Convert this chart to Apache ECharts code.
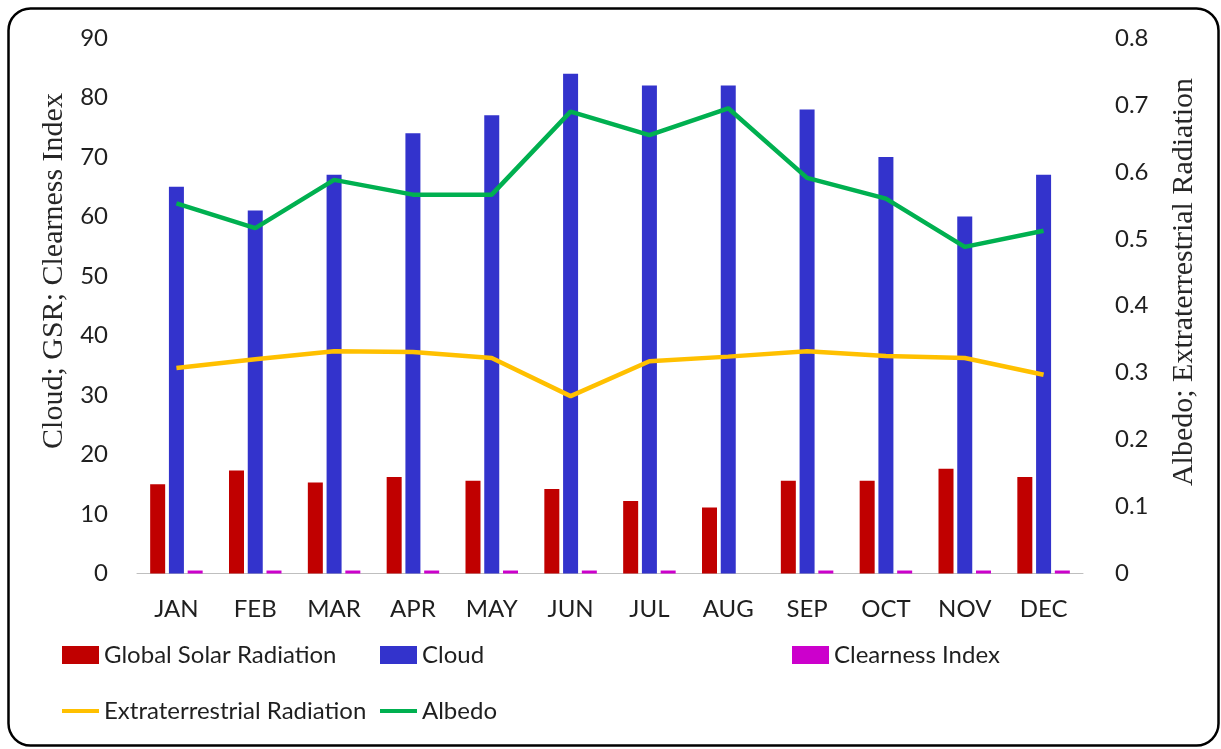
<!DOCTYPE html>
<html>
<head>
<meta charset="utf-8">
<script src="https://cdn.jsdelivr.net/npm/echarts@6/dist/echarts.min.js"></script>
<style>
  html, body { margin: 0; padding: 0; background: #fff; }
  #chart { width: 1221px; height: 749px; }
</style>
</head>
<body>
<div id="chart"></div>
<script>
const months = ['JAN','FEB','MAR','APR','MAY','JUN','JUL','AUG','SEP','OCT','NOV','DEC'];
const gsr = [15.0, 17.3, 15.3, 16.2, 15.6, 14.2, 12.2, 11.1, 15.6, 15.6, 17.6, 16.2];
const cloud = [65, 61, 67, 74, 77, 84, 82, 82, 78, 70, 60, 67];
const clearness = [0.5, 0.5, 0.5, 0.5, 0.5, 0.5, 0.5, null, 0.5, 0.5, 0.5, 0.5];
const extraterrestrial = [0.307, 0.320, 0.332, 0.331, 0.322, 0.265, 0.317, 0.324, 0.332, 0.325, 0.322, 0.297];
const albedo = [0.553, 0.516, 0.588, 0.566, 0.566, 0.690, 0.655, 0.695, 0.591, 0.560, 0.488, 0.512];
const leftTicks = [0, 90, 10];
const rightTicks = [0, 0.8, 0.1];

const sans = 'Lato';
const txt = '#1f1f1f';
const chart = echarts.init(document.getElementById('chart'), null, {renderer: 'canvas'});

function legendAt(name, left, top, isLine) {
  return {
    data: [{ name: name, icon: 'rect' }], left: left, top: top,
    itemWidth: 37, itemHeight: isLine ? 4 : 18,
    textStyle: { fontFamily: sans, fontSize: 24, color: txt },
    selectedMode: false
  };
}

chart.setOption({
  animation: false,
  grid: { left: 137, right: 138, top: 38, bottom: 175.5, containLabel: false },
  legend: [
    legendAt('Global Solar Radiation', 57, 638, false),
    legendAt('Cloud', 375, 638, false),
    legendAt('Clearness Index', 787, 638, false),
    legendAt('Extraterrestrial Radiation', 57, 694, true),
    legendAt('Albedo', 375, 694, true)
  ],
  xAxis: {
    type: 'category', data: months,
    axisLine: { lineStyle: { color: '#BFBFBF', width: 1 } },
    axisTick: { show: false },
    axisLabel: { fontFamily: sans, fontSize: 24, color: txt, margin: 24 }
  },
  yAxis: [
    { type: 'value', min: leftTicks[0], max: leftTicks[1], interval: leftTicks[2],
      splitLine: { show: false }, axisLine: { show: false }, axisTick: { show: false },
      axisLabel: { fontFamily: sans, fontSize: 24, color: txt, margin: 29 } },
    { type: 'value', min: rightTicks[0], max: rightTicks[1], interval: rightTicks[2],
      splitLine: { show: false }, axisLine: { show: false }, axisTick: { show: false },
      axisLabel: { fontFamily: sans, fontSize: 24, color: txt, margin: 32,
        formatter: v => (v === 0 ? '0' : v.toFixed(1)) } }
  ],
  series: [
    { name: 'Global Solar Radiation', type: 'bar', data: gsr, barWidth: 15, barGap: '25%',
      itemStyle: { color: '#C00000' } },
    { name: 'Cloud', type: 'bar', data: cloud, barWidth: 15, barGap: '25%',
      itemStyle: { color: '#3333CC' } },
    { name: 'Clearness Index', type: 'bar', data: clearness, barWidth: 15, barGap: '25%',
      itemStyle: { color: '#CC00CC' } },
    { name: 'Extraterrestrial Radiation', type: 'line', yAxisIndex: 1, data: extraterrestrial,
      symbol: 'none', lineStyle: { color: '#FFC000', width: 4.5 }, itemStyle: { color: '#FFC000' } },
    { name: 'Albedo', type: 'line', yAxisIndex: 1, data: albedo,
      symbol: 'none', lineStyle: { color: '#00B050', width: 4.5 }, itemStyle: { color: '#00B050' } }
  ],
  graphic: [
    { type: 'rect', shape: { x: 8.5, y: 8.5, width: 1210, height: 737, r: 22 },
      style: { fill: 'none', stroke: '#000', lineWidth: 2.5 }, silent: true },
    { type: 'text', x: 54, y: 271, rotation: Math.PI / 2,
      style: { text: 'Cloud; GSR; Clearness Index', fontFamily: 'Liberation Serif', fontSize: 30,
        fill: '#262626', align: 'center', verticalAlign: 'middle' } },
    { type: 'text', x: 1184, y: 282, rotation: Math.PI / 2,
      style: { text: 'Albedo; Extraterrestrial Radiation', fontFamily: 'Liberation Serif', fontSize: 30,
        fill: '#262626', align: 'center', verticalAlign: 'middle' } }
  ]
});
</script>
</body>
</html>
